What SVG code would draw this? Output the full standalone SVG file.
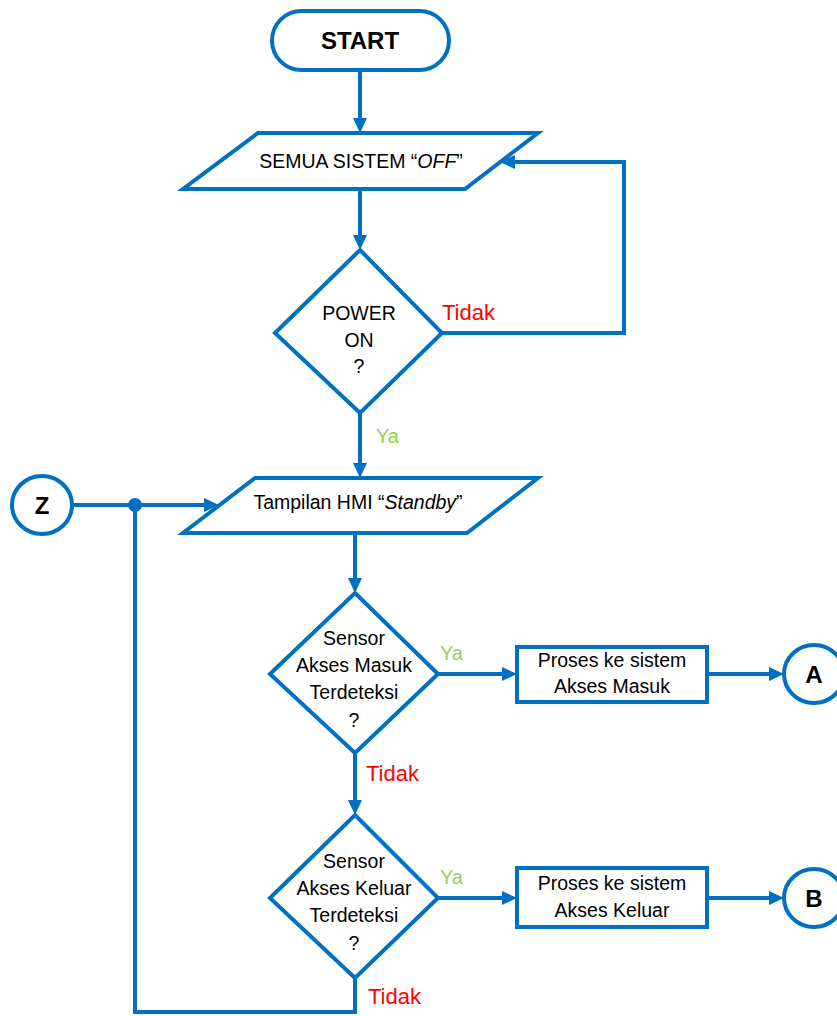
<svg xmlns="http://www.w3.org/2000/svg" width="837" height="1016" viewBox="0 0 837 1016">
<style>
.s{fill:#fff;stroke:#0070C0;stroke-width:4;stroke-linejoin:miter}
.c{fill:none;stroke:#0070C0;stroke-width:4}
.t{font-family:"Liberation Sans",Arial,sans-serif;font-size:19.5px;fill:#000;text-anchor:middle}
.b{font-family:"Liberation Sans",Arial,sans-serif;font-weight:bold;fill:#000;text-anchor:middle}
.no{font-family:"Liberation Sans",Arial,sans-serif;font-size:22px;fill:#FF0000}
.ya{font-family:"Liberation Sans",Arial,sans-serif;font-size:20px;fill:#92D050}
</style>
<defs>
<marker id="ah" markerUnits="userSpaceOnUse" markerWidth="16" markerHeight="14" refX="6" refY="7" orient="auto">
<path d="M0,0 L15,7 L0,14 z" fill="#0070C0"/>
</marker>
</defs>
<rect width="837" height="1016" fill="#fff"/>
<g id="connectors">
<line class="c" x1="360" y1="70" x2="360" y2="124" marker-end="url(#ah)"/>
<line class="c" x1="360" y1="189" x2="360" y2="241" marker-end="url(#ah)"/>
<polyline class="c" points="442,333 624,333 624,162 509,162" marker-end="url(#ah)"/>
<line class="c" x1="360" y1="413" x2="360" y2="469" marker-end="url(#ah)"/>
<line class="c" x1="72" y1="505" x2="210" y2="505" marker-end="url(#ah)"/>
<circle cx="135" cy="505" r="7" fill="#0070C0"/>
<line class="c" x1="355" y1="533" x2="355" y2="584" marker-end="url(#ah)"/>
<line class="c" x1="438" y1="674" x2="508" y2="674" marker-end="url(#ah)"/>
<line class="c" x1="707" y1="674" x2="775" y2="674" marker-end="url(#ah)"/>
<line class="c" x1="355" y1="753" x2="355" y2="806" marker-end="url(#ah)"/>
<line class="c" x1="438" y1="898" x2="508" y2="898" marker-end="url(#ah)"/>
<line class="c" x1="707" y1="898" x2="775" y2="898" marker-end="url(#ah)"/>
<polyline class="c" points="355,978 355,1012 135,1012 135,505"/>
</g>
<g id="start">
<rect class="s" x="272" y="11" width="177" height="59" rx="29.5"/>
<text class="b" x="360" y="49" font-size="24">START</text>
</g>
<g id="semua-off">
<polygon class="s" points="258,133 538,133 465,189 183,189"/>
<text class="t" x="361" y="168">SEMUA SISTEM “<tspan font-style="italic">OFF</tspan>”</text>
</g>
<g id="power-on">
<polygon class="s" points="360,250 442,333 360,413 275,333"/>
<text class="t" x="359" y="320">POWER</text>
<text class="t" x="359" y="347">ON</text>
<text class="t" x="359" y="373">?</text>
<text class="no" x="442" y="320">Tidak</text>
<text class="ya" x="376" y="443">Ya</text>
</g>
<g id="z">
<ellipse class="s" cx="42" cy="505" rx="30" ry="29"/>
<text class="b" x="42" y="514" font-size="24">Z</text>
</g>
<g id="standby">
<polygon class="s" points="255,478 538,478 467,533 183,533"/>
<text class="t" x="358" y="509">Tampilan HMI “<tspan font-style="italic">Standby</tspan>”</text>
</g>
<g id="sensor-masuk">
<polygon class="s" points="355,593 438,674 355,753 270,674"/>
<text class="t" x="354" y="645">Sensor</text>
<text class="t" x="354" y="672">Akses Masuk</text>
<text class="t" x="354" y="699">Terdeteksi</text>
<text class="t" x="354" y="727">?</text>
<text class="ya" x="440" y="660">Ya</text>
<text class="no" x="366" y="781">Tidak</text>
</g>
<g id="proses-masuk">
<rect class="s" x="517" y="647" width="190" height="55"/>
<text class="t" x="612" y="667">Proses ke sistem</text>
<text class="t" x="612" y="693">Akses Masuk</text>
</g>
<g id="a">
<ellipse class="s" cx="814" cy="674" rx="30" ry="29"/>
<text class="b" x="814" y="683" font-size="24">A</text>
</g>
<g id="sensor-keluar">
<polygon class="s" points="355,815 438,898 355,978 270,898"/>
<text class="t" x="354" y="868">Sensor</text>
<text class="t" x="354" y="895">Akses Keluar</text>
<text class="t" x="354" y="922">Terdeteksi</text>
<text class="t" x="354" y="950">?</text>
<text class="ya" x="440" y="884">Ya</text>
<text class="no" x="368" y="1004">Tidak</text>
</g>
<g id="proses-keluar">
<rect class="s" x="517" y="868" width="190" height="59"/>
<text class="t" x="612" y="890">Proses ke sistem</text>
<text class="t" x="612" y="917">Akses Keluar</text>
</g>
<g id="b">
<ellipse class="s" cx="814" cy="898" rx="30" ry="29"/>
<text class="b" x="814" y="907" font-size="24">B</text>
</g>
</svg>
